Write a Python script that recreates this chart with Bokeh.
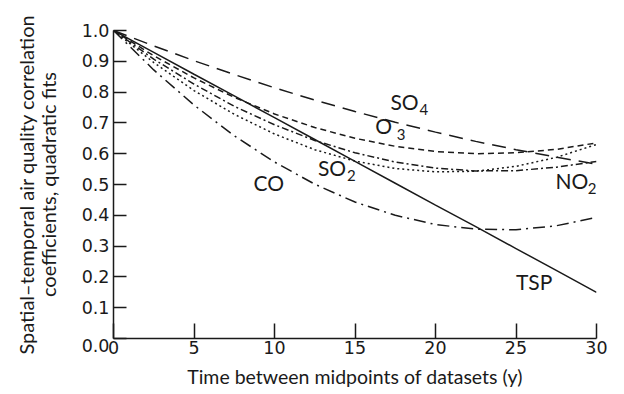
from bokeh.plotting import figure
from bokeh.models import Range1d, FixedTicker
from bokeh.core.properties import value
from bokeh.embed import file_html
from bokeh.resources import INLINE

# ---- data ----
years = [0, 2.5, 5, 7.5, 10, 12.5, 15, 17.5, 20, 22.5, 25, 27.5, 30]
so4 = [1.0, 0.950, 0.902, 0.857, 0.814, 0.774, 0.737, 0.702, 0.670, 0.640, 0.613, 0.589, 0.566]
o3 = [1.0, 0.918, 0.846, 0.783, 0.729, 0.685, 0.650, 0.624, 0.607, 0.600, 0.603, 0.614, 0.635]
no2 = [1.0, 0.907, 0.826, 0.754, 0.694, 0.643, 0.603, 0.573, 0.553, 0.544, 0.545, 0.556, 0.575]
so2 = [1.0, 0.896, 0.805, 0.728, 0.664, 0.613, 0.576, 0.552, 0.541, 0.543, 0.559, 0.588, 0.630]
co = [1.0, 0.872, 0.758, 0.658, 0.573, 0.501, 0.443, 0.400, 0.370, 0.355, 0.353, 0.366, 0.393]
tsp = [1.0, 0.929, 0.858, 0.788, 0.717, 0.646, 0.575, 0.504, 0.433, 0.363, 0.292, 0.221, 0.150]

x_ticks = [0, 5, 10, 15, 20, 25, 30]
y_ticks = [0.0, 0.1, 0.2, 0.3, 0.4, 0.5, 0.6, 0.7, 0.8, 0.9, 1.0]
y_tick_labels = ["0.0", "0.1", "0.2", "0.3", "0.4", "0.5", "0.6", "0.7", "0.8", "0.9", "1.0"]

x_title = "Time between midpoints of datasets (y)"
y_title = "Spatial\u2013temporal air quality correlation\ncoefficients, quadratic fits"

# curve labels: main text and subscript
lab_main = ["SO", "O", "SO", "CO", "NO", "TSP"]
lab_main_x = [17.2, 16.25, 12.7, 8.7, 27.45, 25.0]
lab_main_y = [0.770, 0.690, 0.556, 0.506, 0.512, 0.185]
lab_sub = ["4", "3", "2", "2"]
lab_sub_x = [19.0, 17.6, 14.5, 29.45]
lab_sub_y = [0.745, 0.662, 0.528, 0.486]

FONT = "Lato"
NUMFONT = "DejaVu Sans"
INK = "#1a1a1a"

p = figure(width=624, height=394, output_backend="svg", toolbar_location=None,
           x_range=Range1d(0, 30), y_range=Range1d(0, 1.0),
           min_border_left=113, min_border_right=28, min_border_top=30, min_border_bottom=56)
p.grid.visible = False
p.outline_line_color = None
p.background_fill_color = "white"
p.border_fill_color = "white"

lw = 1.5
p.line(years, so4, line_color=INK, line_width=lw, line_dash="14 8")
p.line(years, o3, line_color=INK, line_width=lw, line_dash="6 4")
p.line(years, no2, line_color=INK, line_width=lw, line_dash="7 3 2 3")
p.line(years, so2, line_color=INK, line_width=lw, line_dash="2 3")
p.line(years, co, line_color=INK, line_width=lw, line_dash="12 5 2 5")
p.line(years, tsp, line_color=INK, line_width=lw)

p.text(x=lab_main_x, y=lab_main_y, text=lab_main, text_font=value(FONT), text_font_size="21px",
       text_align="left", text_baseline="middle", text_color=INK)
p.text(x=lab_sub_x, y=lab_sub_y, text=lab_sub, text_font=value(FONT), text_font_size="15px",
       text_align="left", text_baseline="middle", text_color=INK)

for ax in (p.xaxis[0], p.yaxis[0]):
    ax.axis_line_color = INK
    ax.axis_line_width = lw
    ax.major_tick_line_color = INK
    ax.major_tick_line_width = lw
    ax.major_tick_out = 0
    ax.minor_tick_in = 0
    ax.minor_tick_out = 0
    ax.major_label_text_font = NUMFONT
    ax.major_label_text_font_size = "17.5px"
    ax.major_label_text_color = INK
    ax.axis_label_text_font = FONT
    ax.axis_label_text_font_style = "normal"
    ax.axis_label_text_color = INK

p.xaxis.ticker = FixedTicker(ticks=x_ticks)
p.xaxis.major_tick_in = 15
p.xaxis.major_label_standoff = 2
p.xaxis.axis_label = x_title
p.xaxis.axis_label_text_font_size = "19.5px"
p.xaxis.axis_label_standoff = 8

p.yaxis.ticker = FixedTicker(ticks=y_ticks)
overrides = {t: s for t, s in zip(y_ticks, y_tick_labels)}
overrides[0.0] = "\n" + y_tick_labels[0]
p.yaxis.major_label_overrides = overrides
p.yaxis.major_label_text_line_height = 0.75
p.yaxis.major_tick_in = 13
p.yaxis.major_label_standoff = 4
p.yaxis.axis_label = y_title
p.yaxis.axis_label_text_font_size = "20px"
p.yaxis.axis_label_standoff = 19
p.yaxis.axis_label_text_line_height = 0.9

open("out.html", "w").write(file_html(p, INLINE))
